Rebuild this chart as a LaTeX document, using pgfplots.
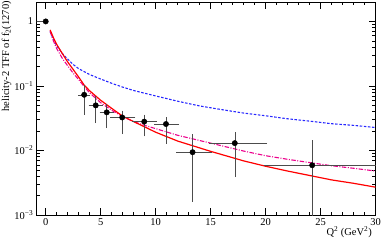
\documentclass[border=0pt]{standalone}
\usepackage{fontspec}
\setmainfont{Liberation Serif}
\usepackage{pgfplots}
\pgfplotsset{compat=1.18}

% measured points: x, y, x errors (bin edges), total y errors
\pgfplotstableread{
x     y       xm    xp    ym      yp
0     1       0.82  0     0       0
3.5   0.073   0.4   0.4   0.035   0.025
4.55  0.050   0.5   0.5   0.022   0.016
5.55  0.039   0.5   0.5   0.0155  0.011
6.96  0.0325  0.96  1.04  0.0135  0.0065
8.96  0.028   0.96  1.04  0.0105  0.006
10.94 0.0257  0.94  1.06  0.0122  0.0053
13.36 0.0094  1.36  1.64  0.0077  0.0075
17.2  0.013   2.2   2.8   0.0089  0.005
24.24 0.0059  4.24  5.76  0.0049  0.0076
}\datatot

% statistical part of the y errors (inner marks)
\pgfplotstableread{
x     y       ym      yp
3.5   0.073   0.020   0.015
4.55  0.050   0.014   0.011
5.55  0.039   0.010   0.008
6.96  0.0325  0.008   0.005
8.96  0.028   0.007   0.0045
10.94 0.0257  0.008   0.004
13.36 0.0094  0.0066  0.0066
17.2  0.013   0.0047  0.0039
}\datastat

\begin{document}
\begin{tikzpicture}
\useasboundingbox (0,0) rectangle (382bp,240bp);
\begin{axis}[
  at={(36.7bp,25bp)}, anchor=south west,
  scale only axis, width=338.8bp, height=213bp,
  ymode=log,
  xmin=-0.82, xmax=30, ymin=1e-3, ymax=2,
  xtick={0,5,...,30}, minor x tick num=4,
  ytick={1e-3,1e-2,1e-1,1},
  yticklabels={10\textsuperscript{−3},10\textsuperscript{−2},10\textsuperscript{−1},1},
  minor ytick={2e-3,3e-3,4e-3,5e-3,6e-3,7e-3,8e-3,9e-3,
               2e-2,3e-2,4e-2,5e-2,6e-2,7e-2,8e-2,9e-2,
               0.2,0.3,0.4,0.5,0.6,0.7,0.8,0.9,2},
  /pgf/number format/assume math mode=true,
  tick label style={font=\fontsize{10.5}{12}\selectfont},
  major tick length=7bp, minor tick length=3.5bp,
  tick style={black, line width=0.5pt},
  axis line style={line width=0.6pt},
  error bars/error bar style={black!70, line width=0.5pt},
  error bars/error mark options={black!70, line width=0.5pt, mark size=1.6bp},
]
% blue dashed
\addplot[color={rgb,255:red,40;green,40;blue,255}, line width=1.1pt, dash pattern=on 2.5bp off 1.6bp] coordinates {
  (0.4,0.70)(0.7,0.52)(1,0.42)(1.5,0.32)(2,0.26)(2.5,0.215)(3,0.185)(4,0.15)
  (5,0.128)(6,0.11)(7,0.096)(8,0.085)(10,0.07)(12,0.058)(14,0.049)(16,0.043)
  (18,0.038)(20,0.0345)(22,0.031)(24,0.0285)(26,0.026)(28,0.0245)(30,0.0227)};
% magenta dash-dot
\addplot[color=magenta, line width=1.1pt, dash pattern=on 4.5bp off 1.5bp on 1bp off 1.5bp] coordinates {
  (0.4,0.70)(0.7,0.50)(1,0.38)(1.5,0.27)(2,0.205)(2.5,0.158)(3,0.125)(3.5,0.098)
  (4,0.078)(5,0.055)(6,0.042)(7,0.0335)(8,0.028)(9,0.0245)(10,0.0218)(12,0.0172)
  (15,0.013)(18,0.0098)(20,0.0083)(22,0.0073)(24,0.0065)(26,0.0058)(28,0.0053)(30,0.0048)};
% red solid
\addplot[color=red, line width=1.2pt] coordinates {
  (0.4,0.74)(0.7,0.56)(1,0.44)(1.5,0.32)(2,0.235)(2.5,0.18)(3,0.137)(3.5,0.103)
  (4,0.084)(5,0.06)(6,0.045)(7,0.034)(8,0.028)(9,0.0232)(10,0.0192)(12,0.014)
  (15,0.0097)(18,0.0069)(20,0.0057)(22,0.0048)(24,0.0041)(26,0.0035)(28,0.0031)(30,0.0027)};
% data, stat error marks
\addplot[only marks, mark=none,
  error bars/.cd, y dir=both, y explicit]
  table[x=x, y=y, y error minus=ym, y error plus=yp] {\datastat};
% data, total errors
\addplot[only marks, mark=*, mark size=2.7bp, mark options={fill=black, draw=black},
  error bars/.cd, x dir=both, y dir=both, x explicit, y explicit]
  table[x=x, y=y, x error minus=xm, x error plus=xp, y error minus=ym, y error plus=yp] {\datatot};
\end{axis}
\node[rotate=90, anchor=north east, inner sep=0pt, font=\fontsize{10.5}{12}\selectfont]
  at (1.5bp,239bp) {helicity-2 TFF of f\textsubscript{2}(1270)};
\node[anchor=base east, inner sep=0pt, font=\fontsize{10.5}{12}\selectfont]
  at (372bp,5bp) {Q\textsuperscript{2} (GeV\textsuperscript{2})};
\end{tikzpicture}
\end{document}
